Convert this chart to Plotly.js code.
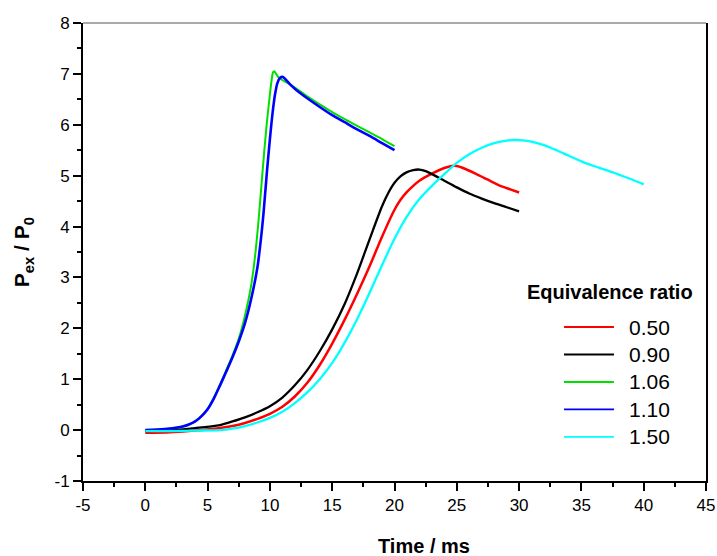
<!DOCTYPE html>
<html>
<head>
<meta charset="utf-8">
<script src="https://cdn.plot.ly/plotly-3.0.1.min.js"></script>
<style>html,body{margin:0;padding:0;background:#fff;}#chart{width:717px;height:556px;}</style>
</head>
<body>
<div id="chart"></div>
<script>
// Series: equivalence ratio labels
const seriesNames = ["0.50", "0.90", "1.06", "1.10", "1.50"];
const seriesColors = ["#ff0000", "#000000", "#00e000", "#0000ff", "#00ffff"];

// phi = 0.50 (red)
const x050 = [0,2,4,6,7,8,9,10,11,12,13,14,15,16,17,18,19,20,20.5,21,21.5,22,23,24,24.6,25,25.5,26.5,27.5,28.5,29.3,30];
const y050 = [-0.05,-0.04,-0.01,0.04,0.08,0.14,0.22,0.32,0.46,0.66,0.93,1.28,1.7,2.17,2.68,3.22,3.8,4.33,4.53,4.68,4.8,4.9,5.04,5.15,5.19,5.19,5.15,5.04,4.92,4.8,4.73,4.67];

// phi = 0.90 (black)
const x090 = [0,2,4,6,7,8,9,10,11,12,13,14,15,16,17,18,19,19.5,20,20.5,21,21.5,22,22.5,23,24,25,26,27,28,29,30];
const y090 = [-0.02,0,0.04,0.1,0.17,0.25,0.35,0.47,0.64,0.88,1.18,1.55,1.98,2.48,3.08,3.75,4.4,4.66,4.86,4.99,5.07,5.11,5.12,5.09,5.03,4.9,4.77,4.65,4.55,4.46,4.38,4.3];

// phi = 1.06 (green)
const x106 = [0,1,2,3,3.5,4,4.5,5,5.5,6,6.5,7,7.5,8,8.5,8.8,9.1,9.4,9.7,10,10.15,10.25,10.35,10.5,10.7,11,11.5,12,13,14,15,16,17,18,19,20];
const y106 = [0,0.01,0.03,0.07,0.11,0.17,0.28,0.42,0.64,0.9,1.18,1.47,1.8,2.25,2.85,3.4,4.15,5.05,5.9,6.6,6.9,7.03,7.05,7.0,6.93,6.88,6.81,6.73,6.56,6.4,6.25,6.11,5.98,5.85,5.72,5.58];

// phi = 1.10 (blue)
const x110 = [0,1,2,3,3.5,4,4.5,5,5.5,6,6.5,7,7.5,8,8.5,9,9.3,9.5,9.77,10,10.2,10.4,10.6,10.8,11.05,11.3,11.6,12,12.4,13,14,15,16,17,18,19,20];
const y110 = [0,0.01,0.03,0.07,0.11,0.17,0.27,0.41,0.62,0.88,1.15,1.43,1.74,2.1,2.58,3.2,3.8,4.3,5.1,5.72,6.2,6.58,6.82,6.92,6.94,6.88,6.8,6.71,6.63,6.52,6.35,6.19,6.05,5.91,5.78,5.64,5.5];

// phi = 1.50 (cyan)
const x150 = [0,2,4,6,7,8,9,10,11,12,13,14,15,16,17,18,19,20,21,22,23,24,25,26,27,28,29,30,31,32,33,34,35,36,37,38,39,40];
const y150 = [-0.02,-0.02,-0.01,0,0.03,0.08,0.15,0.24,0.36,0.53,0.74,1.0,1.32,1.72,2.18,2.7,3.24,3.76,4.2,4.54,4.8,5.03,5.25,5.42,5.55,5.64,5.69,5.7,5.67,5.6,5.5,5.39,5.28,5.19,5.11,5.02,4.93,4.83];

const xTickVals = [-5,0,5,10,15,20,25,30,35,40,45];
const yTickVals = [-1,0,1,2,3,4,5,6,7,8];

const xs = [x050, x090, x106, x110, x150];
const ys = [y050, y090, y106, y110, y150];
const widths = [2.5, 2.3, 2, 2.6, 2.3];

const traces = xs.map((x, i) => ({
  x: x, y: ys[i], type: 'scatter', mode: 'lines', name: seriesNames[i],
  line: {color: seriesColors[i], width: widths[i], shape: 'spline', smoothing: 0.8},
  showlegend: false, hoverinfo: 'skip'
}));

const font = 'Arial, "Liberation Sans", sans-serif';

// manual legend (paper coordinates)
const legX0 = 0.7721, legX1 = 0.8523, legTextX = 0.8732;
const legY0 = 0.3362, legDy = 0.0600;
const shapes = [
  {type: 'line', xref: 'paper', yref: 'paper', x0: 0, x1: 1, y0: 1, y1: 1, line: {color: '#555', width: 1}}
];
const annotations = [
  {xref: 'paper', yref: 'paper', x: 0.548, y: -0.142, text: '<b>Time / ms</b>', showarrow: false,
   xanchor: 'center', yanchor: 'middle', font: {family: font, size: 20, color: '#000'}},
  {xref: 'paper', yref: 'paper', x: -0.096, y: 0.5, text: '<b>P<sub>ex</sub> / P<sub>0</sub></b>', showarrow: false,
   textangle: -90, xanchor: 'center', yanchor: 'middle', font: {family: font, size: 21, color: '#000'}},
  {xref: 'paper', yref: 'paper', x: 0.8459, y: 0.4127, text: '<b>Equivalence ratio</b>', showarrow: false,
   xanchor: 'center', yanchor: 'middle', font: {family: font, size: 20, color: '#000'}}
];
seriesNames.forEach((n, i) => {
  const yy = legY0 - i * legDy;
  shapes.push({type: 'line', xref: 'paper', yref: 'paper', x0: legX0, x1: legX1, y0: yy, y1: yy,
    line: {color: seriesColors[i], width: 1.8}});
  annotations.push({xref: 'paper', yref: 'paper', x: legTextX, y: yy, text: n, showarrow: false,
    xanchor: 'left', yanchor: 'middle', font: {family: font, size: 21, color: '#000'}});
});

const layout = {
  width: 717, height: 556,
  margin: {l: 83, r: 11, t: 23, b: 75, pad: 0},
  paper_bgcolor: '#fff', plot_bgcolor: '#fff',
  showlegend: false,
  font: {family: font, size: 17, color: '#000'},
  xaxis: {
    range: [-5, 45], tickmode: 'array', tickvals: xTickVals, ticktext: xTickVals.map(String),
    ticks: 'outside', ticklen: 8, tickwidth: 2, tickcolor: '#000',
    showline: true, linewidth: 2, linecolor: '#000', mirror: false,
    showgrid: false, zeroline: false,
    minor: {dtick: 2.5, tick0: 0, ticks: 'outside', ticklen: 4, tickwidth: 2, tickcolor: '#000', showgrid: false},
    tickfont: {family: font, size: 17, color: '#000'}
  },
  yaxis: {
    range: [-1, 8], tickmode: 'array', tickvals: yTickVals, ticktext: yTickVals.map(String),
    ticks: 'outside', ticklen: 8, tickwidth: 2, tickcolor: '#000',
    showline: true, linewidth: 2, linecolor: '#000', mirror: true,
    showgrid: false, zeroline: false,
    minor: {dtick: 0.5, tick0: 0, ticks: 'outside', ticklen: 4, tickwidth: 2, tickcolor: '#000', showgrid: false},
    tickfont: {family: font, size: 17, color: '#000'}
  },
  shapes: shapes,
  annotations: annotations
};

Plotly.newPlot('chart', traces, layout, {displayModeBar: false, staticPlot: true});
</script>
</body>
</html>
